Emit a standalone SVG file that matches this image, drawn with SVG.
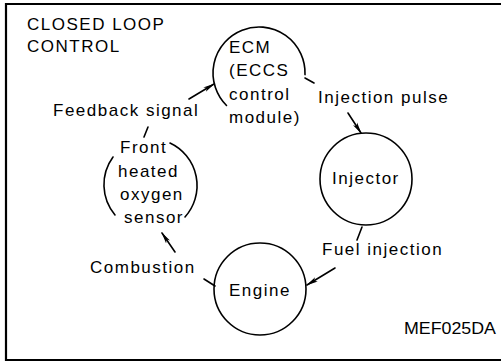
<svg xmlns="http://www.w3.org/2000/svg" width="501" height="362" viewBox="0 0 501 362">
<style>
text{font-family:"Liberation Sans",Arial,sans-serif;font-size:17px;letter-spacing:1.5px;fill:#000}
.ln{fill:none;stroke:#000;stroke-width:1.6;stroke-linecap:round}
</style>
<defs>
<marker id="ah" viewBox="0 0 12 6" refX="11" refY="3" markerWidth="12" markerHeight="6" markerUnits="userSpaceOnUse" orient="auto">
<path d="M0,0.5 L12,3 L0,5.5 L3,3 z" fill="#000"/>
</marker>
</defs>
<rect width="501" height="362" fill="#fff"/>
<path d="M501,4 H6 V360 H501" fill="none" stroke="#000" stroke-width="2.2"/>
<text x="27" y="30">CLOSED LOOP</text>
<text x="27" y="52">CONTROL</text>
<g id="ecm">
<path class="ln" d="M226.5,105.5 A46,46 0 1 1 305,74.6"/>
<text x="229" y="53">ECM</text>
<text x="229" y="76">(ECCS</text>
<text x="229" y="100">control</text>
<text x="229" y="123">module)</text>
</g>
<g id="injector">
<circle class="ln" cx="366" cy="179" r="46"/>
<text x="332" y="184">Injector</text>
</g>
<g id="engine">
<circle class="ln" cx="260" cy="289" r="46"/>
<text x="229" y="296">Engine</text>
</g>
<g id="sensor">
<path class="ln" d="M170,143 A47,47 0 0 1 185,217"/>
<path class="ln" d="M115,215 A47,47 0 0 1 113,157"/>
<text x="120" y="153">Front</text>
<text x="118" y="177">heated</text>
<text x="120" y="200">oxygen</text>
<text x="124" y="223">sensor</text>
</g>
<g id="connectors">
<path class="ln" d="M305,78 L314,83"/>
<path class="ln" d="M348,113 L361,133" marker-end="url(#ah)"/>
<path class="ln" d="M362,227 L357,240"/>
<path class="ln" d="M335,268 L307,285" marker-end="url(#ah)"/>
<path class="ln" d="M215,286 L204,279"/>
<path class="ln" d="M175,252 L162,233" marker-end="url(#ah)"/>
<path class="ln" d="M144,137 L148,127"/>
<path class="ln" d="M189,99 L214,84" marker-end="url(#ah)"/>
<text x="53" y="116">Feedback signal</text>
<text x="318" y="103">Injection pulse</text>
<text x="322" y="255">Fuel injection</text>
<text x="90" y="273">Combustion</text>
<text x="404" y="334" style="letter-spacing:0" textLength="92" lengthAdjust="spacingAndGlyphs">MEF025DA</text>
</g>
</svg>
